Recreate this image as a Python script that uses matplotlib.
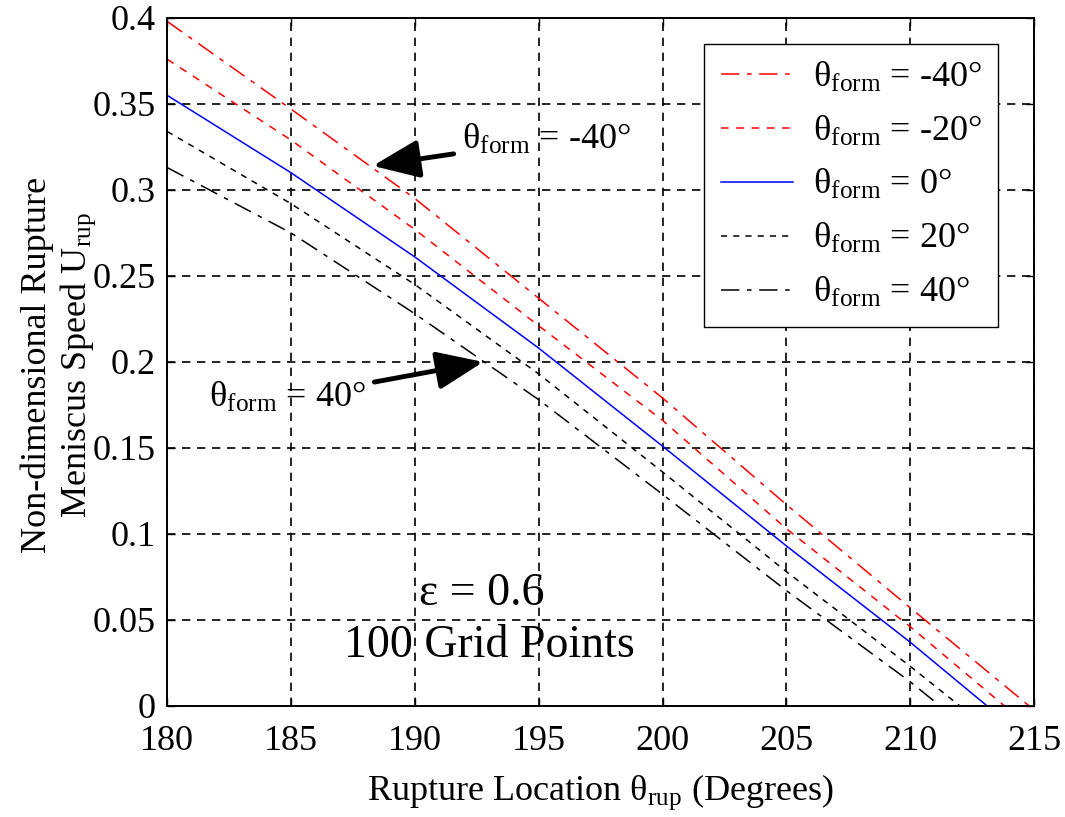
import matplotlib
matplotlib.use("Agg")
import matplotlib.pyplot as plt

plt.rcParams["font.family"] = ["Liberation Serif", "DejaVu Serif"]
plt.rcParams["mathtext.fontset"] = "custom"
plt.rcParams["mathtext.rm"] = "Liberation Serif"
plt.rcParams["mathtext.it"] = "Liberation Serif:italic"

# rupture speed vs rupture location, one curve per formation angle
x_ticks = [180, 185, 190, 195, 200, 205, 210]
theta_m40 = x_ticks + [214.8]
u_m40 = [0.398, 0.347, 0.295, 0.237, 0.179, 0.117, 0.057, 0.0]
theta_m20 = x_ticks + [213.8]
u_m20 = [0.376, 0.329, 0.277, 0.221, 0.166, 0.103, 0.046, 0.0]
theta_0 = x_ticks + [213.1]
u_0 = [0.355, 0.310, 0.261, 0.208, 0.151, 0.093, 0.037, 0.0]
theta_p20 = x_ticks + [212.0]
u_p20 = [0.334, 0.292, 0.245, 0.193, 0.136, 0.078, 0.023, 0.0]
theta_p40 = x_ticks + [211.2]
u_p40 = [0.313, 0.275, 0.228, 0.178, 0.123, 0.067, 0.014, 0.0]

def lab(v):
    return "θ$_{\\rm form}$ = " + v + "°"

fig = plt.figure(figsize=(10.65, 8.17), dpi=100)
ax = fig.add_axes([0.157, 0.136, 0.814, 0.842])

ax.plot(theta_m40, u_m40, color="#ff0000", lw=1.1, ls=(0, (12, 5, 3, 5)), label=lab("-40"))
ax.plot(theta_m20, u_m20, color="#ff0000", lw=1.1, ls=(0, (5, 5)), label=lab("-20"))
ax.plot(theta_0, u_0, color="#0000ff", lw=1.1, ls="-", label=lab("0"))
ax.plot(theta_p20, u_p20, color="black", lw=1.1, ls=(0, (4, 4)), label=lab("20"))
ax.plot(theta_p40, u_p40, color="black", lw=1.1, ls=(0, (12, 5, 3, 5)), label=lab("40"))

ax.set_xlim(180, 215)
ax.set_ylim(0, 0.4)
ax.set_xticks([180, 185, 190, 195, 200, 205, 210, 215])
ax.set_yticks([0, 0.05, 0.1, 0.15, 0.2, 0.25, 0.3, 0.35, 0.4])
ax.set_yticklabels(["0", "0.05", "0.1", "0.15", "0.2", "0.25", "0.3", "0.35", "0.4"])
ax.tick_params(direction="in", length=6, width=1, top=True, right=True, labelsize=26)
ax.tick_params(axis="x", pad=14)
ax.tick_params(axis="y", pad=8)
ax.grid(True, color="black", ls=(0, (5, 4)), lw=1.2)
ax.set_axisbelow(True)
for s in ax.spines.values():
    s.set_linewidth(1.4)

ax.set_xlabel("Rupture Location θ$_{\\rm rup}$ (Degrees)", fontsize=26, labelpad=10)
ax.set_ylabel("Non-dimensional Rupture\nMeniscus Speed U$_{\\rm rup}$", fontsize=26,
              linespacing=1.15)
ax.yaxis.set_label_coords(-0.08, 0.496)

leg = ax.legend(loc="upper right", bbox_to_anchor=(0.958, 0.962), borderaxespad=0,
                fontsize=26, handlelength=2.0, handletextpad=0.55, labelspacing=0.55,
                borderpad=0.45, fancybox=False, framealpha=1, edgecolor="black")
leg.get_frame().set_linewidth(1.0)

# callouts for the two extreme formation angles
ax.annotate(lab("-40"), xy=(188.3, 0.314), xytext=(191.9, 0.329),
            fontsize=26, va="center", ha="left",
            arrowprops=dict(arrowstyle="-|>,head_length=1.1,head_width=0.45",
                            color="black", lw=3.5, shrinkA=4, shrinkB=0))
ax.annotate(lab("40"), xy=(192.76, 0.2), xytext=(181.7, 0.179),
            fontsize=26, va="center", ha="left",
            arrowprops=dict(arrowstyle="-|>,head_length=1.1,head_width=0.45",
                            color="black", lw=3.5, shrinkA=4, shrinkB=0))

ax.text(192.7, 0.0652, "ε = 0.6", fontsize=33, ha="center", va="center")
ax.text(193.0, 0.035, "100 Grid Points", fontsize=33, ha="center", va="center")

fig.savefig("out.png", dpi=100)
